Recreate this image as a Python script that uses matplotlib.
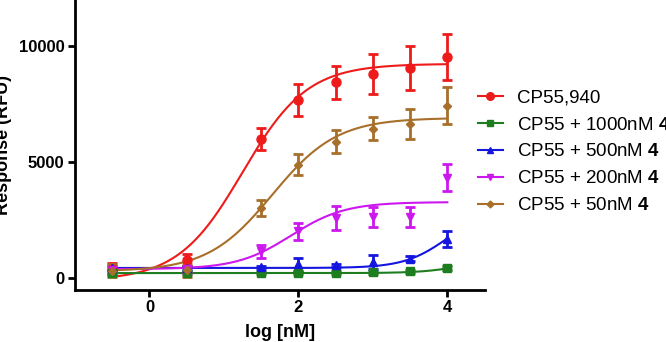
import numpy as np
import matplotlib
matplotlib.use("Agg")
import matplotlib.pyplot as plt
from matplotlib.lines import Line2D

plt.rcParams['font.family'] = ['Liberation Sans', 'DejaVu Sans']
plt.rcParams['mathtext.fontset'] = 'custom'
plt.rcParams['mathtext.bf'] = 'Liberation Sans:bold'
plt.rcParams['mathtext.rm'] = 'Liberation Sans'

# log concentration of CP55,940 (nM)
log_conc = [-0.5, 0.5, 1.5, 2.0, 2.5, 3.0, 3.5, 4.0]

# mean responses (RFU) and error bars
red_y = [400, 800, 6000, 7700, 8450, 8800, 9050, 9550]
red_err = [250, 250, 470, 700, 700, 870, 950, 1000]
green_y = [250, 250, 230, 240, 250, 260, 300, 440]
green_err = [60, 60, 50, 50, 50, 60, 60, 80]
blue_y = [450, 450, 480, 620, 560, 720, 850, 1700]
blue_err = [80, 80, 60, 280, 80, 300, 120, 350]
magenta_y = [380, 400, 1180, 2030, 2600, 2650, 2650, 4330]
magenta_err = [150, 150, 280, 370, 500, 430, 430, 580]
brown_y = [320, 360, 3050, 4900, 5900, 6450, 6650, 7450]
brown_err = [280, 280, 350, 450, 480, 500, 650, 780]

# fitted 4-parameter curves: bottom, top, logEC50, hill slope
red_fit = [-100, 9250, 1.25, 1.0]
green_fit = [230, 1000, 4.3, 1.5]
blue_fit = [450, 3000, 4.0, 1.5]
magenta_fit = [400, 3290, 1.9, 1.2]
brown_fit = [300, 6920, 1.65, 1.0]

labels = ['CP55,940',
          r'CP55 + 1000nM $\mathbf{4}$',
          r'CP55 + 500nM $\mathbf{4}$',
          r'CP55 + 200nM $\mathbf{4}$',
          r'CP55 + 50nM $\mathbf{4}$']
colors = ['#ee1b1b', '#1e7d1e', '#1515e0', '#cc18ee', '#a86f2a']
markers = ['o', 's', '^', 'v', 'D']
msizes = [6.5, 6, 6, 6, 4.5]

series = [(red_y, red_err, red_fit), (green_y, green_err, green_fit),
          (blue_y, blue_err, blue_fit), (magenta_y, magenta_err, magenta_fit),
          (brown_y, brown_err, brown_fit)]


def four_pl(x, bottom, top, ec50, hill):
    return bottom + (top - bottom) / (1 + 10 ** ((ec50 - x) * hill))


fig = plt.figure(figsize=(6.66, 3.42), dpi=100)
ax = fig.add_axes([0.1126, 0.152, 0.615, 0.848])

xs = np.linspace(-0.5, 4.0, 300)
handles = []
for (y, err, fit), c, m, ms, lab in zip(series, colors, markers, msizes, labels):
    ax.plot(xs, four_pl(xs, *fit), color=c, lw=1.5, zorder=2)
    ax.errorbar(log_conc, y, yerr=err, fmt=m, color=c, ms=ms, elinewidth=2,
                capsize=3.5, capthick=2, zorder=3)
    handles.append(Line2D([], [], color=c, marker=m, ms=ms - 1, lw=1.5, label=lab))

ax.set_xlim(-1, 4.5)
ax.set_ylim(-500, 12000)
ax.set_xticks([0, 2, 4])
ax.set_yticks([0, 5000, 10000])
ax.spines['top'].set_visible(False)
ax.spines['right'].set_visible(False)
for s in ['left', 'bottom']:
    ax.spines[s].set_linewidth(2)
ax.tick_params(width=2, length=5, labelsize=12, pad=2.5)
for t in ax.get_xticklabels() + ax.get_yticklabels():
    t.set_fontweight('bold')

ax.set_xlabel('log [nM]', fontsize=13, fontweight='bold', labelpad=6)
ax.set_ylabel('Response (RFU)', fontsize=13, fontweight='bold')
ax.yaxis.set_label_coords(-0.155, 0.5)

fig.legend(handles=handles, loc='upper left', bbox_to_anchor=(0.7065, 0.76),
           frameon=False, fontsize=13.5, handlelength=1.33, handletextpad=0.75,
           labelspacing=0.52, borderaxespad=0)

fig.savefig('out.png', dpi=100)
